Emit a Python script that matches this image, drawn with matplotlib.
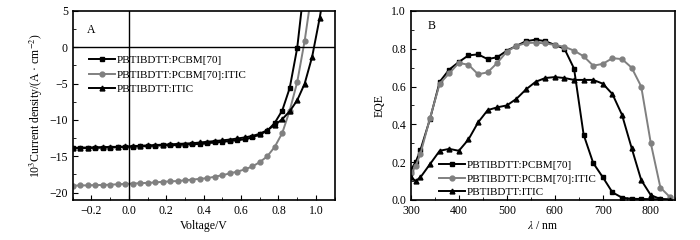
import matplotlib
matplotlib.use("Agg")
import matplotlib.pyplot as plt
from matplotlib.ticker import MultipleLocator

plt.rcParams['font.family'] = ['Liberation Serif', 'DejaVu Serif']
plt.rcParams['mathtext.fontset'] = 'stix'
plt.rcParams['font.size'] = 8.5

labels = ["PBTIBDTT:PCBM[70]", "PBTIBDTT:PCBM[70]:ITIC", "PBTIBDTT:ITIC"]

# J-V data
V = [-0.30, -0.26, -0.22, -0.18, -0.14, -0.10, -0.06, -0.02, 0.02, 0.06, 0.10,
     0.14, 0.18, 0.22, 0.26, 0.30, 0.34, 0.38, 0.42, 0.46, 0.50, 0.54, 0.58,
     0.62, 0.66, 0.70, 0.74, 0.78, 0.82, 0.86, 0.90, 0.94, 0.98, 1.02, 1.06]
J_pcbm = [-13.9, -13.9, -13.85, -13.85, -13.8, -13.8, -13.75, -13.7, -13.7, -13.65, -13.6,
          -13.55, -13.5, -13.5, -13.45, -13.4, -13.35, -13.3, -13.2, -13.1, -13.0, -12.9, -12.8,
          -12.65, -12.4, -12.0, -11.5, -10.4, -8.7, -5.6, -0.1, 9.0, 20.0, 30.0, 40.0]
J_tern = [-19.05, -19.0, -19.0, -18.95, -18.95, -18.9, -18.85, -18.8, -18.75, -18.7, -18.65,
          -18.6, -18.5, -18.45, -18.4, -18.3, -18.2, -18.1, -18.0, -17.8, -17.6, -17.35, -17.1,
          -16.8, -16.4, -15.8, -15.0, -13.7, -11.8, -8.7, -4.8, 0.9, 8.0, 18.0, 30.0]
J_itic = [-13.85, -13.8, -13.8, -13.75, -13.75, -13.7, -13.7, -13.65, -13.6, -13.55, -13.5,
          -13.45, -13.4, -13.35, -13.3, -13.25, -13.2, -13.1, -13.0, -12.9, -12.8, -12.7, -12.55,
          -12.4, -12.2, -11.9, -11.4, -10.7, -9.9, -8.8, -7.3, -5.0, -1.3, 4.0, 10.0]

# EQE data
wl = [300, 310, 320, 340, 360, 380, 400, 420, 440, 460, 480, 500, 520, 540, 560, 580, 600,
      620, 640, 660, 680, 700, 720, 740, 760, 780, 800, 820, 840]
eqe_pcbm = [0.16, 0.20, 0.265, 0.43, 0.625, 0.69, 0.73, 0.765, 0.77, 0.745, 0.755, 0.79, 0.815,
            0.84, 0.848, 0.84, 0.82, 0.80, 0.695, 0.345, 0.195, 0.12, 0.04, 0.012, 0.006,
            0.005, 0.004, 0.003, 0.002]
eqe_tern = [0.14, 0.18, 0.245, 0.435, 0.615, 0.67, 0.725, 0.715, 0.665, 0.675, 0.725, 0.785, 0.815,
            0.83, 0.832, 0.828, 0.82, 0.81, 0.79, 0.76, 0.71, 0.72, 0.75, 0.745, 0.70,
            0.60, 0.30, 0.065, 0.015]
eqe_itic = [0.12, 0.10, 0.12, 0.19, 0.26, 0.27, 0.26, 0.32, 0.41, 0.475, 0.49, 0.50, 0.535,
            0.585, 0.625, 0.645, 0.65, 0.645, 0.635, 0.635, 0.635, 0.615, 0.56, 0.45, 0.275,
            0.105, 0.025, 0.005, 0.002]

grey = '#808080'
styles = [dict(color='black', marker='s'), dict(color=grey, marker='o'), dict(color='black', marker='^')]

fig = plt.figure(figsize=(7, 2.4), dpi=100)
ax1 = fig.add_axes([0.104, 0.167, 0.374, 0.7875])
ax2 = fig.add_axes([0.587, 0.167, 0.377, 0.7875])

for J, st, lab in zip([J_pcbm, J_tern, J_itic], styles, labels):
    ax1.plot(V, J, lw=1.4, ms=3.5, label=lab, **st)
ax1.axhline(0, color='black', lw=1.0)
ax1.axvline(0, color='black', lw=1.0)
ax1.set_xlim(-0.3, 1.1)
ax1.set_ylim(-21, 5)
ax1.xaxis.set_minor_locator(MultipleLocator(0.1))
ax1.yaxis.set_minor_locator(MultipleLocator(2.5))
ax1.set_xticks([-0.2, 0.0, 0.2, 0.4, 0.6, 0.8, 1.0])
ax1.set_xticklabels(['\u22120.2', '0.0', '0.2', '0.4', '0.6', '0.8', '1.0'])
ax1.set_yticks([5, 0, -5, -10, -15, -20])
ax1.set_yticklabels(['5', '0', '\u22125', '\u221210', '\u221215', '\u221220'])
ax1.set_xlabel('Voltage/V', labelpad=2)
ax1.set_ylabel('10$^3$Current density/(A \u00b7 cm$^{\u22122}$)', labelpad=3)
ax1.text(0.07, 0.90, 'A', transform=ax1.transAxes, ha='center', va='center')
ax1.legend(loc='upper left', bbox_to_anchor=(0.045, 0.79), frameon=False, handlelength=2.3,
           handletextpad=0.2, labelspacing=0.45, borderaxespad=0, fontsize=8)

for E, st, lab in zip([eqe_pcbm, eqe_tern, eqe_itic], styles, labels):
    ax2.plot(wl, E, lw=1.4, ms=3.5, label=lab, **st)
ax2.set_xlim(300, 850)
ax2.set_ylim(0, 1.0)
ax2.xaxis.set_major_locator(MultipleLocator(100))
ax2.xaxis.set_minor_locator(MultipleLocator(50))
ax2.yaxis.set_major_locator(MultipleLocator(0.2))
ax2.yaxis.set_minor_locator(MultipleLocator(0.1))
ax2.set_xlabel('$\\lambda$ / nm', labelpad=2)
ax2.set_ylabel('EQE', labelpad=4)
ax2.text(0.08, 0.92, 'B', transform=ax2.transAxes, ha='center', va='center')
ax2.legend(loc='lower left', bbox_to_anchor=(0.09, -0.01), frameon=False, handlelength=2.3,
           handletextpad=0.2, labelspacing=0.35, borderaxespad=0, fontsize=8)

for ax in (ax1, ax2):
    ax.tick_params(which='both', direction='in', top=False, right=False)
    ax.tick_params(which='major', length=3.5)
    ax.tick_params(which='minor', length=2)
    for s in ax.spines.values():
        s.set_linewidth(1.2)

fig.savefig('out.png', dpi=100)
